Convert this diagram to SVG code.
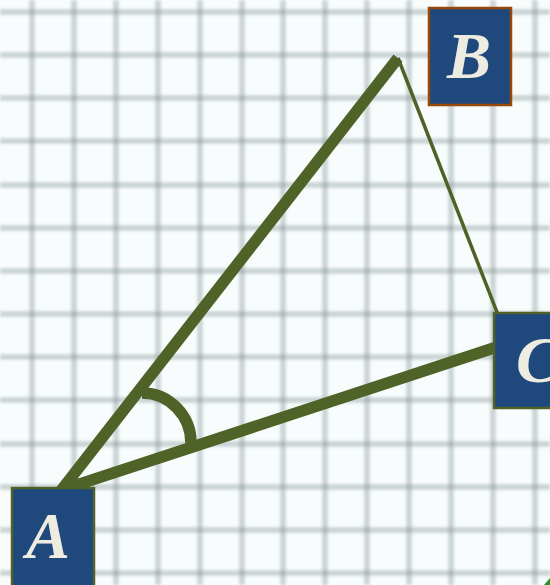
<svg xmlns="http://www.w3.org/2000/svg" width="550" height="585" viewBox="0 0 550 585">
  <style>
    .grid line { stroke: #5f7478; stroke-opacity: 0.3; stroke-width: 5.5; }
    .box { fill: #1f497d; stroke-width: 2.5; }
    .olive { stroke: #4f6228; }
    .brown { stroke: #974806; }
    .lbl { font-family: "Liberation Serif", "Times New Roman", serif; font-style: italic; font-weight: bold; font-size: 66px; fill: #eeece1; text-anchor: middle; }
    .thick { fill: none; stroke: #4f6228; stroke-width: 11.5; stroke-linejoin: miter; stroke-linecap: butt; }
    .thin { fill: none; stroke: #4f6228; stroke-width: 3.5; }
  </style>
  <defs>
    <filter id="soft" x="-5%" y="-5%" width="110%" height="110%">
      <feGaussianBlur stdDeviation="1.5"/>
    </filter>
  </defs>
  <rect width="550" height="585" fill="#f8fcfc"/>
  <g class="grid" filter="url(#soft)">
    <line x1="32" y1="0" x2="32" y2="585"/>
    <line x1="74" y1="0" x2="74" y2="585"/>
    <line x1="116" y1="0" x2="116" y2="585"/>
    <line x1="158" y1="0" x2="158" y2="585"/>
    <line x1="200" y1="0" x2="200" y2="585"/>
    <line x1="242" y1="0" x2="242" y2="585"/>
    <line x1="283" y1="0" x2="283" y2="585"/>
    <line x1="325" y1="0" x2="325" y2="585"/>
    <line x1="367" y1="0" x2="367" y2="585"/>
    <line x1="409" y1="0" x2="409" y2="585"/>
    <line x1="451" y1="0" x2="451" y2="585"/>
    <line x1="493" y1="0" x2="493" y2="585"/>
    <line x1="535" y1="0" x2="535" y2="585"/>
    <line x1="0" y1="12" x2="550" y2="12"/>
    <line x1="0" y1="55" x2="550" y2="55"/>
    <line x1="0" y1="98" x2="550" y2="98"/>
    <line x1="0" y1="141" x2="550" y2="141"/>
    <line x1="0" y1="185" x2="550" y2="185"/>
    <line x1="0" y1="228" x2="550" y2="228"/>
    <line x1="0" y1="271" x2="550" y2="271"/>
    <line x1="0" y1="314" x2="550" y2="314"/>
    <line x1="0" y1="357" x2="550" y2="357"/>
    <line x1="0" y1="400" x2="550" y2="400"/>
    <line x1="0" y1="444" x2="550" y2="444"/>
    <line x1="0" y1="487" x2="550" y2="487"/>
    <line x1="0" y1="530" x2="550" y2="530"/>
    <line x1="0" y1="573" x2="550" y2="573"/>
  </g>
  <g id="connectors">
    <polyline class="thick" points="398,58 61.5,490 509,343"/>
    <line class="thin" x1="398" y1="58" x2="509" y2="343"/>
    <path class="thick" stroke-width="10" d="M142,393 A49,50 0 0 1 191,443"/>
  </g>
  <g id="node-A">
    <rect class="box olive" x="12" y="488" width="82" height="100"/>
    <text class="lbl" x="48" y="558">A</text>
  </g>
  <g id="node-B">
    <rect class="box brown" x="429" y="8" width="82" height="97"/>
    <text class="lbl" x="469" y="78">B</text>
  </g>
  <g id="node-C">
    <rect class="box olive" x="494" y="313" width="82" height="95"/>
    <text class="lbl" x="538" y="382">C</text>
  </g>
  <polygon points="544,585 550,578 550,585" fill="#2e8b2e"/>
</svg>
